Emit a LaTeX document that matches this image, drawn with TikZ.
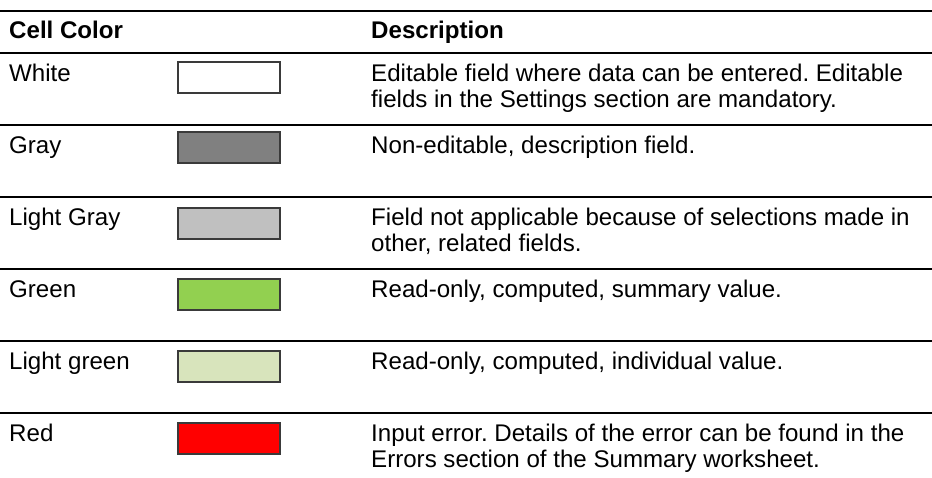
\documentclass[tikz,border=0pt]{standalone}
\usepackage{fontspec}
\setmainfont{Liberation Sans}
\frenchspacing
\definecolor{swgray}{HTML}{808080}
\definecolor{swlgray}{HTML}{C0C0C0}
\definecolor{swgreen}{HTML}{92D050}
\definecolor{swlgreen}{HTML}{D8E4BC}
\definecolor{swred}{HTML}{FF0000}
\definecolor{swborder}{HTML}{3A3A3A}
\begin{document}
\begin{tikzpicture}[x=1pt,y=-1pt,
  rule/.style={line width=2.6pt,black},
  swatch/.style={draw=swborder,line width=1.4pt},
  txt/.style={anchor=base west,inner sep=0pt,font=\fontsize{24.1}{26}\selectfont},
  head/.style={txt,font=\fontsize{24.1}{26}\selectfont\bfseries}]
\useasboundingbox (0,0) rectangle (932,478);
% rules
\foreach \y/\n in {11/r0,53/r1,125/r2,197/r3,269/r4,341/r5,413/r6}{
  \coordinate (\n a) at (0,\y);
  \coordinate (\n b) at (932,\y);
  \draw[rule] (\n a) -- (\n b);
}
% header
\node[head] (h1) at (9,38.5) {Cell Color};
\node[head] (h2) at (371,38.5) {Description};
% row 1 White
\node[txt] (c1) at (9,82) {White};
\draw[swatch,fill=white] (178,62) rectangle (280,93);
\node[txt] (d1a) at (371,82) {Editable field where data can be entered. Editable};
\node[txt] (d1b) at (371,108) {fields in the Settings section are mandatory.};
% row 2 Gray
\node[txt] (c2) at (9,154) {Gray};
\draw[swatch,fill=swgray] (178,132) rectangle (280,163);
\node[txt] (d2a) at (371,154) {Non-editable, description field.};
% row 3 Light Gray
\node[txt] (c3) at (9,226) {Light Gray};
\draw[swatch,fill=swlgray] (178,208) rectangle (280,239);
\node[txt] (d3a) at (371,226) {Field not applicable because of selections made in};
\node[txt] (d3b) at (371,252) {other, related fields.};
% row 4 Green
\node[txt] (c4) at (9,298) {Green};
\draw[swatch,fill=swgreen] (178,279) rectangle (280,310);
\node[txt] (d4a) at (371,298) {Read-only, computed, summary value.};
% row 5 Light green
\node[txt] (c5) at (9,370) {Light green};
\draw[swatch,fill=swlgreen] (178,351) rectangle (280,382);
\node[txt] (d5a) at (371,370) {Read-only, computed, individual value.};
% row 6 Red
\node[txt] (c6) at (9,441) {Red};
\draw[swatch,fill=swred] (178,423) rectangle (280,454);
\node[txt] (d6a) at (371,441) {Input error. Details of the error can be found in the};
\node[txt] (d6b) at (371,467) {Errors section of the Summary worksheet.};
\end{tikzpicture}
\end{document}
